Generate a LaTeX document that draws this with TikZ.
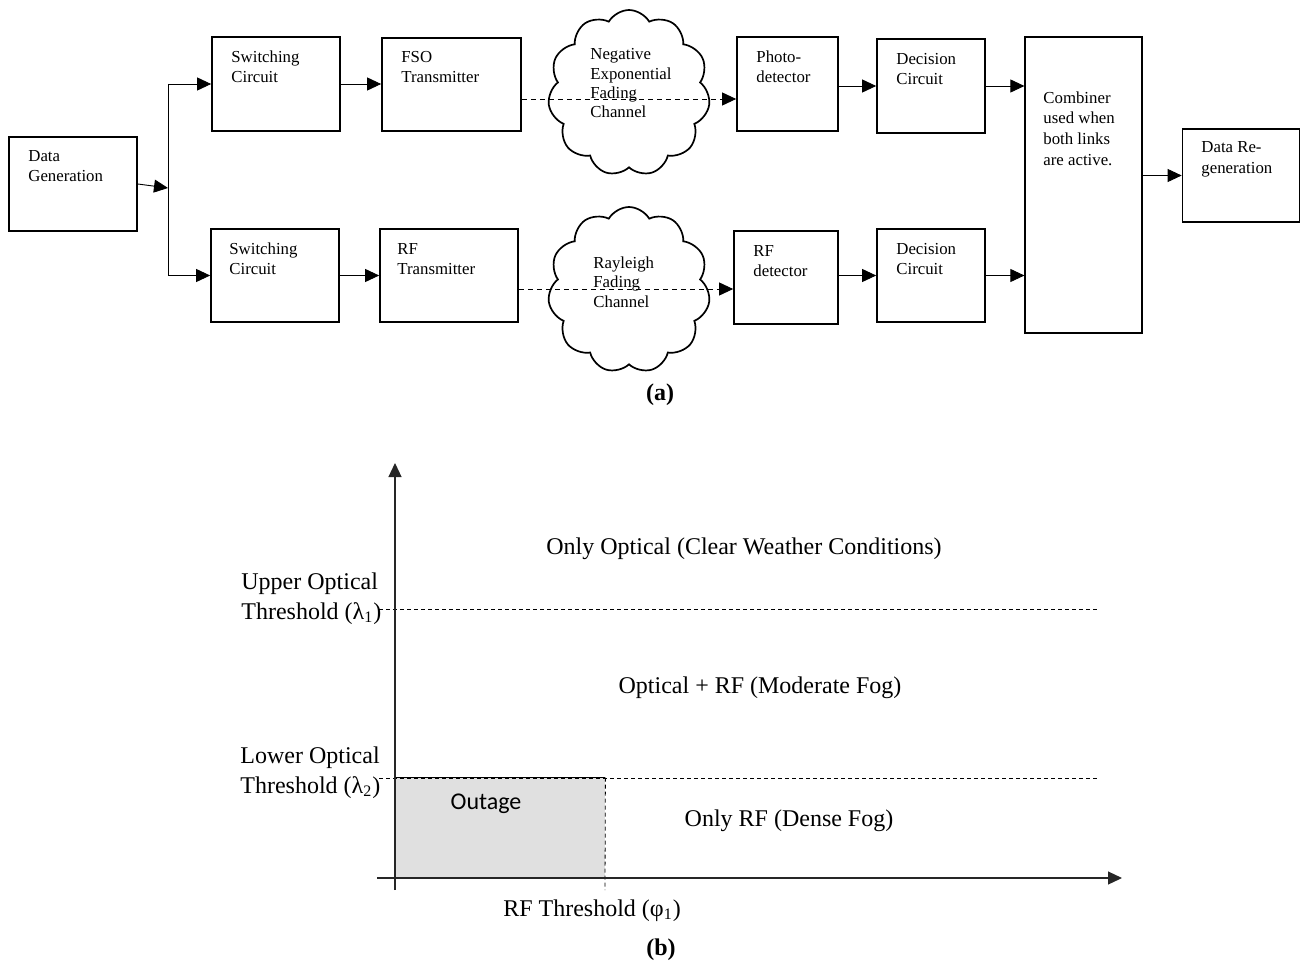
\documentclass[tikz,border=0pt]{standalone}
\usepackage{fontspec}
\setmainfont{Liberation Serif}
\newfontfamily\calib{Carlito}
\usetikzlibrary{arrows.meta,shapes.symbols,calc}
\definecolor{outgray}{RGB}{224,224,224}
\begin{document}
\begin{tikzpicture}[x=0.5pt,y=-0.5pt,
 blk/.style={draw, line width=0.85pt, inner sep=0, rectangle},
 txt/.style={anchor=base west, inner sep=0, align=left, font=\fontsize{8.4}{10}\selectfont},
 ctxt/.style={anchor=base west, inner sep=0, align=left, font=\fontsize{8.4}{9.7}\selectfont},
 lbl/.style={inner sep=0, align=left, font=\fontsize{12}{15}\selectfont},
 tip/.style={-{Triangle[length=7pt,width=6.5pt]}},
 arr/.style={line width=0.45pt, tip},
 conn/.style={line width=0.45pt},
 dsh/.style={line width=0.45pt, dash pattern=on 2.5pt off 2pt},
 thr/.style={line width=0.4pt, dash pattern=on 2pt off 1.5pt},
 axis/.style={line width=0.6pt, draw=black!85},
 cloudshape/.style={cloud, cloud puffs=11, cloud puff arc=120, aspect=1, draw, line width=0.85pt, fill=white, inner sep=0}
]
\useasboundingbox (0,0) rectangle (1301,963);

% ---------- (a) block diagram ----------
\node[blk, minimum width=64pt, minimum height=47pt] (dg) at (73,184) {};
\node[blk, minimum width=64pt, minimum height=47pt] (sc1) at (276,84) {};
\node[blk, minimum width=64pt, minimum height=46.5pt] (sc2) at (275,275.5) {};
\node[blk, minimum width=69.5pt, minimum height=46.5pt] (fso) at (451.5,84.5) {};
\node[blk, minimum width=69pt, minimum height=46.5pt] (rft) at (449,275.5) {};
\node[cloudshape, minimum width=81pt, minimum height=83pt] (cl1) at (629,93) {};
\node[cloudshape, minimum width=81pt, minimum height=83pt] (cl2) at (629,290) {};
\node[blk, minimum width=50.5pt, minimum height=47pt] (pd) at (787.5,84) {};
\node[blk, minimum width=52pt, minimum height=46.5pt] (rfd) at (786,277.5) {};
\node[blk, minimum width=54pt, minimum height=47pt] (dc1) at (931,86) {};
\node[blk, minimum width=54pt, minimum height=46.5pt] (dc2) at (931,275.5) {};
\node[blk, line width=0.6pt, minimum width=58.5pt, minimum height=148pt] (comb) at (1083.5,185) {};
\node[blk, minimum width=58.5pt, minimum height=46.5pt] (dr) at (1241,175.5) {};

% texts (anchor = baseline of the last line)
\node[txt] (dgt) at (28,182) {Data\\Generation};
\node[txt] (sc1t) at (231,83) {Switching\\Circuit};
\node[txt] (sc2t) at (229,274) {Switching\\Circuit};
\node[txt] (fsot) at (401,83) {FSO\\Transmitter};
\node[txt] (rftt) at (397,274) {RF\\Transmitter};
\node[ctxt] (cl1t) at (590,118) {Negative\\Exponential\\Fading\\Channel};
\node[ctxt] (cl2t) at (593,307) {Rayleigh\\Fading\\Channel};
\node[txt] (pdt) at (756,83) {Photo-\\detector};
\node[txt] (rfdt) at (753,276) {RF\\detector};
\node[txt] (dc1t) at (896,85) {Decision\\Circuit};
\node[txt] (dc2t) at (896,274) {Decision\\Circuit};
\node[txt, font=\fontsize{8.4}{10.3}\selectfont] (combt) at (1043,165) {Combiner\\used when\\both links\\are active.};
\node[txt] (drt) at (1201,173) {Data Re-\\generation};

% connectors
\coordinate (br) at (168,188);
\coordinate (bt) at (168,84);
\coordinate (bb) at (168,275.5);
\draw[arr] (dg.east) -- (br);
\draw[conn] (bt) -- (bb);
\draw[arr] (bt) -- (sc1.west);
\draw[arr] (bb) -- (sc2.west);
\draw[arr] (sc1.east) -- (sc1.east -| fso.west);
\draw[arr] (sc2.east) -- (rft.west);
\coordinate (d1) at (0,99);
\coordinate (d2) at (0,289);
\draw[dsh, tip] (fso.east |- d1) -- (pd.west |- d1);
\draw[dsh, tip] (rft.east |- d2) -- (rfd.west |- d2);
\draw[arr] (pd.east |- dc1.west) -- (dc1.west);
\draw[arr] (rfd.east |- dc2.west) -- (dc2.west);
\draw[arr] (dc1.east) -- (dc1.east -| comb.west);
\draw[arr] (dc2.east) -- (dc2.east -| comb.west);
\draw[arr] (comb.east |- dr.west) -- (dr.west);

\node[inner sep=0, anchor=base, font=\fontsize{12}{14}\selectfont\bfseries] (capa) at (660,400) {(a)};

% ---------- (b) threshold chart ----------
\node[fill=outgray, inner sep=0, minimum width=105pt, minimum height=50pt] (orect) at (500,828) {};
\coordinate (u1) at (379,609);
\coordinate (u2) at (1098,609);
\coordinate (l1) at (379,778);
\coordinate (l2) at (1098,778);
\coordinate (rtick) at (605,890);
\draw[thr] (u1) -- (u2);
\draw[thr] (l1) -- (l2);
\draw[conn] (orect.north west) -- (orect.north east);
\draw[thr] (orect.north east) -- (rtick);
\coordinate (yb) at (395,890);
\coordinate (yt) at (395,463);
\coordinate (xl) at (377,878);
\coordinate (xr) at (1122,878);
\draw[axis, tip] (yb) -- (yt);
\draw[axis, tip] (xl) -- (xr);

\node[lbl, anchor=base west] (uot) at (241,619) {Upper Optical\\Threshold (λ\textsubscript{1})};
\node[lbl, anchor=base west] (lot) at (240,793) {Lower Optical\\Threshold (λ\textsubscript{2})};
\node[lbl, anchor=base] (oo) at (744,554) {Only Optical (Clear Weather Conditions)};
\node[lbl, anchor=base] (orf) at (760,693) {Optical + RF (Moderate Fog)};
\node[lbl, anchor=base] (orfo) at (789,826) {Only RF (Dense Fog)};
\node[lbl, anchor=base, font=\calib\fontsize{12}{14}\selectfont] (outt) at (486,809) {Outage};
\node[lbl, anchor=base] (rft2) at (592,916) {RF Threshold (φ\textsubscript{1})};
\node[inner sep=0, anchor=base, font=\fontsize{12}{14}\selectfont\bfseries] (capb) at (661,955) {(b)};
\end{tikzpicture}
\end{document}
